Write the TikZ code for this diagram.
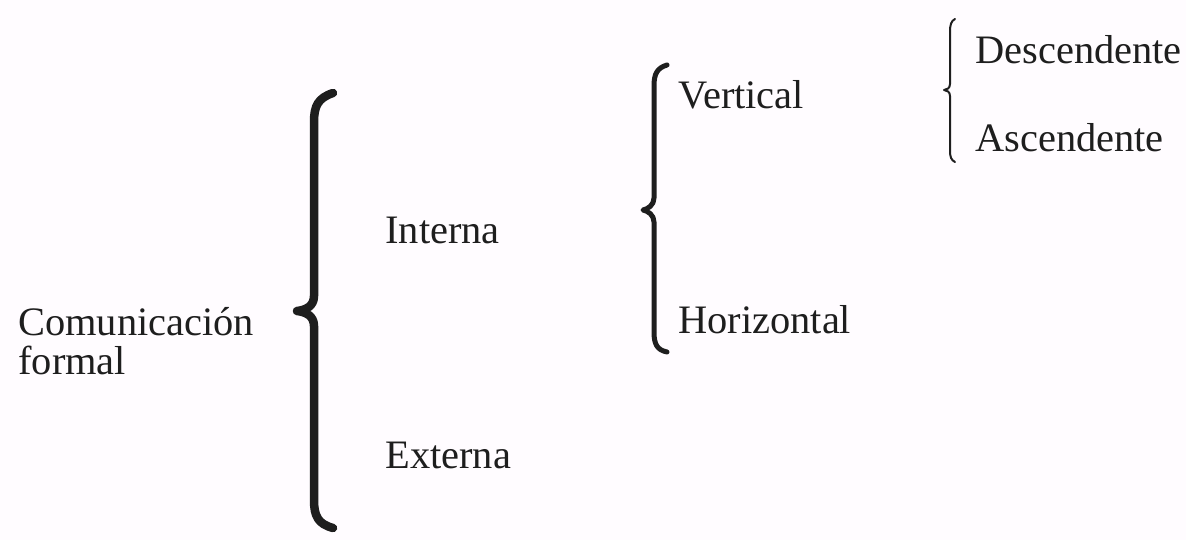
\documentclass[tikz,border=0pt]{standalone}
\usepackage{fontspec}
\setmainfont{Liberation Serif}
\definecolor{paper}{HTML}{FFFCFF}
\definecolor{ink}{HTML}{1E1E1E}
\begin{document}
\begin{tikzpicture}[x=0.02cm,y=-0.02cm,
  lbl/.style={anchor=west,inner sep=0pt,text=ink,font=\fontsize{23}{22}\selectfont},
  bracebig/.style={draw=ink,line width=0.17cm,line cap=round,line join=round},
  bracemid/.style={draw=ink,line width=0.1cm,line cap=round,line join=round},
  bracesmall/.style={draw=ink,line width=0.04cm,line cap=round,line join=round}]
\useasboundingbox[fill=paper] (0,0) rectangle (1186,540);
% texts
\node[lbl,align=left] (cf) at (18,341) {Comunicación\\formal};
\node[lbl] (int) at (385,230) {Interna};
\node[lbl] (ext) at (385,455) {Externa};
\node[lbl] (ver) at (678,95) {Vertical};
\node[lbl] (hor) at (678,320) {Horizontal};
\node[lbl] (des) at (975,50) {Descendente};
\node[lbl] (asc) at (975,138) {Ascendente};
% big brace
\coordinate (b1t) at (333,93);
\coordinate (b1m) at (297,311);
\coordinate (b1b) at (333,528);
\draw[bracebig] (b1t) .. controls (318,98) and (314,106) .. (314,122)
  -- (314,296) .. controls (314,306) and (306,310) .. (b1m)
  .. controls (306,312) and (314,316) .. (314,326)
  -- (314,500) .. controls (314,516) and (318,524) .. (b1b);
% middle brace
\coordinate (b2t) at (667,65);
\coordinate (b2m) at (643,210);
\coordinate (b2b) at (667,352);
\draw[bracemid] (b2t) .. controls (657,68) and (654,74) .. (654,86)
  -- (654,198) .. controls (654,205) and (648,209) .. (b2m)
  .. controls (648,211) and (654,215) .. (654,222)
  -- (654,332) .. controls (654,344) and (657,350) .. (b2b);
% small brace
\coordinate (b3t) at (955,19);
\coordinate (b3m) at (944,90);
\coordinate (b3b) at (955,162);
\draw[bracesmall] (b3t) .. controls (951,21) and (950,25) .. (950,32)
  -- (950,84) .. controls (950,88) and (947,90) .. (b3m)
  .. controls (947,90) and (950,92) .. (950,96)
  -- (950,150) .. controls (950,157) and (951,160) .. (b3b);
\end{tikzpicture}
\end{document}
